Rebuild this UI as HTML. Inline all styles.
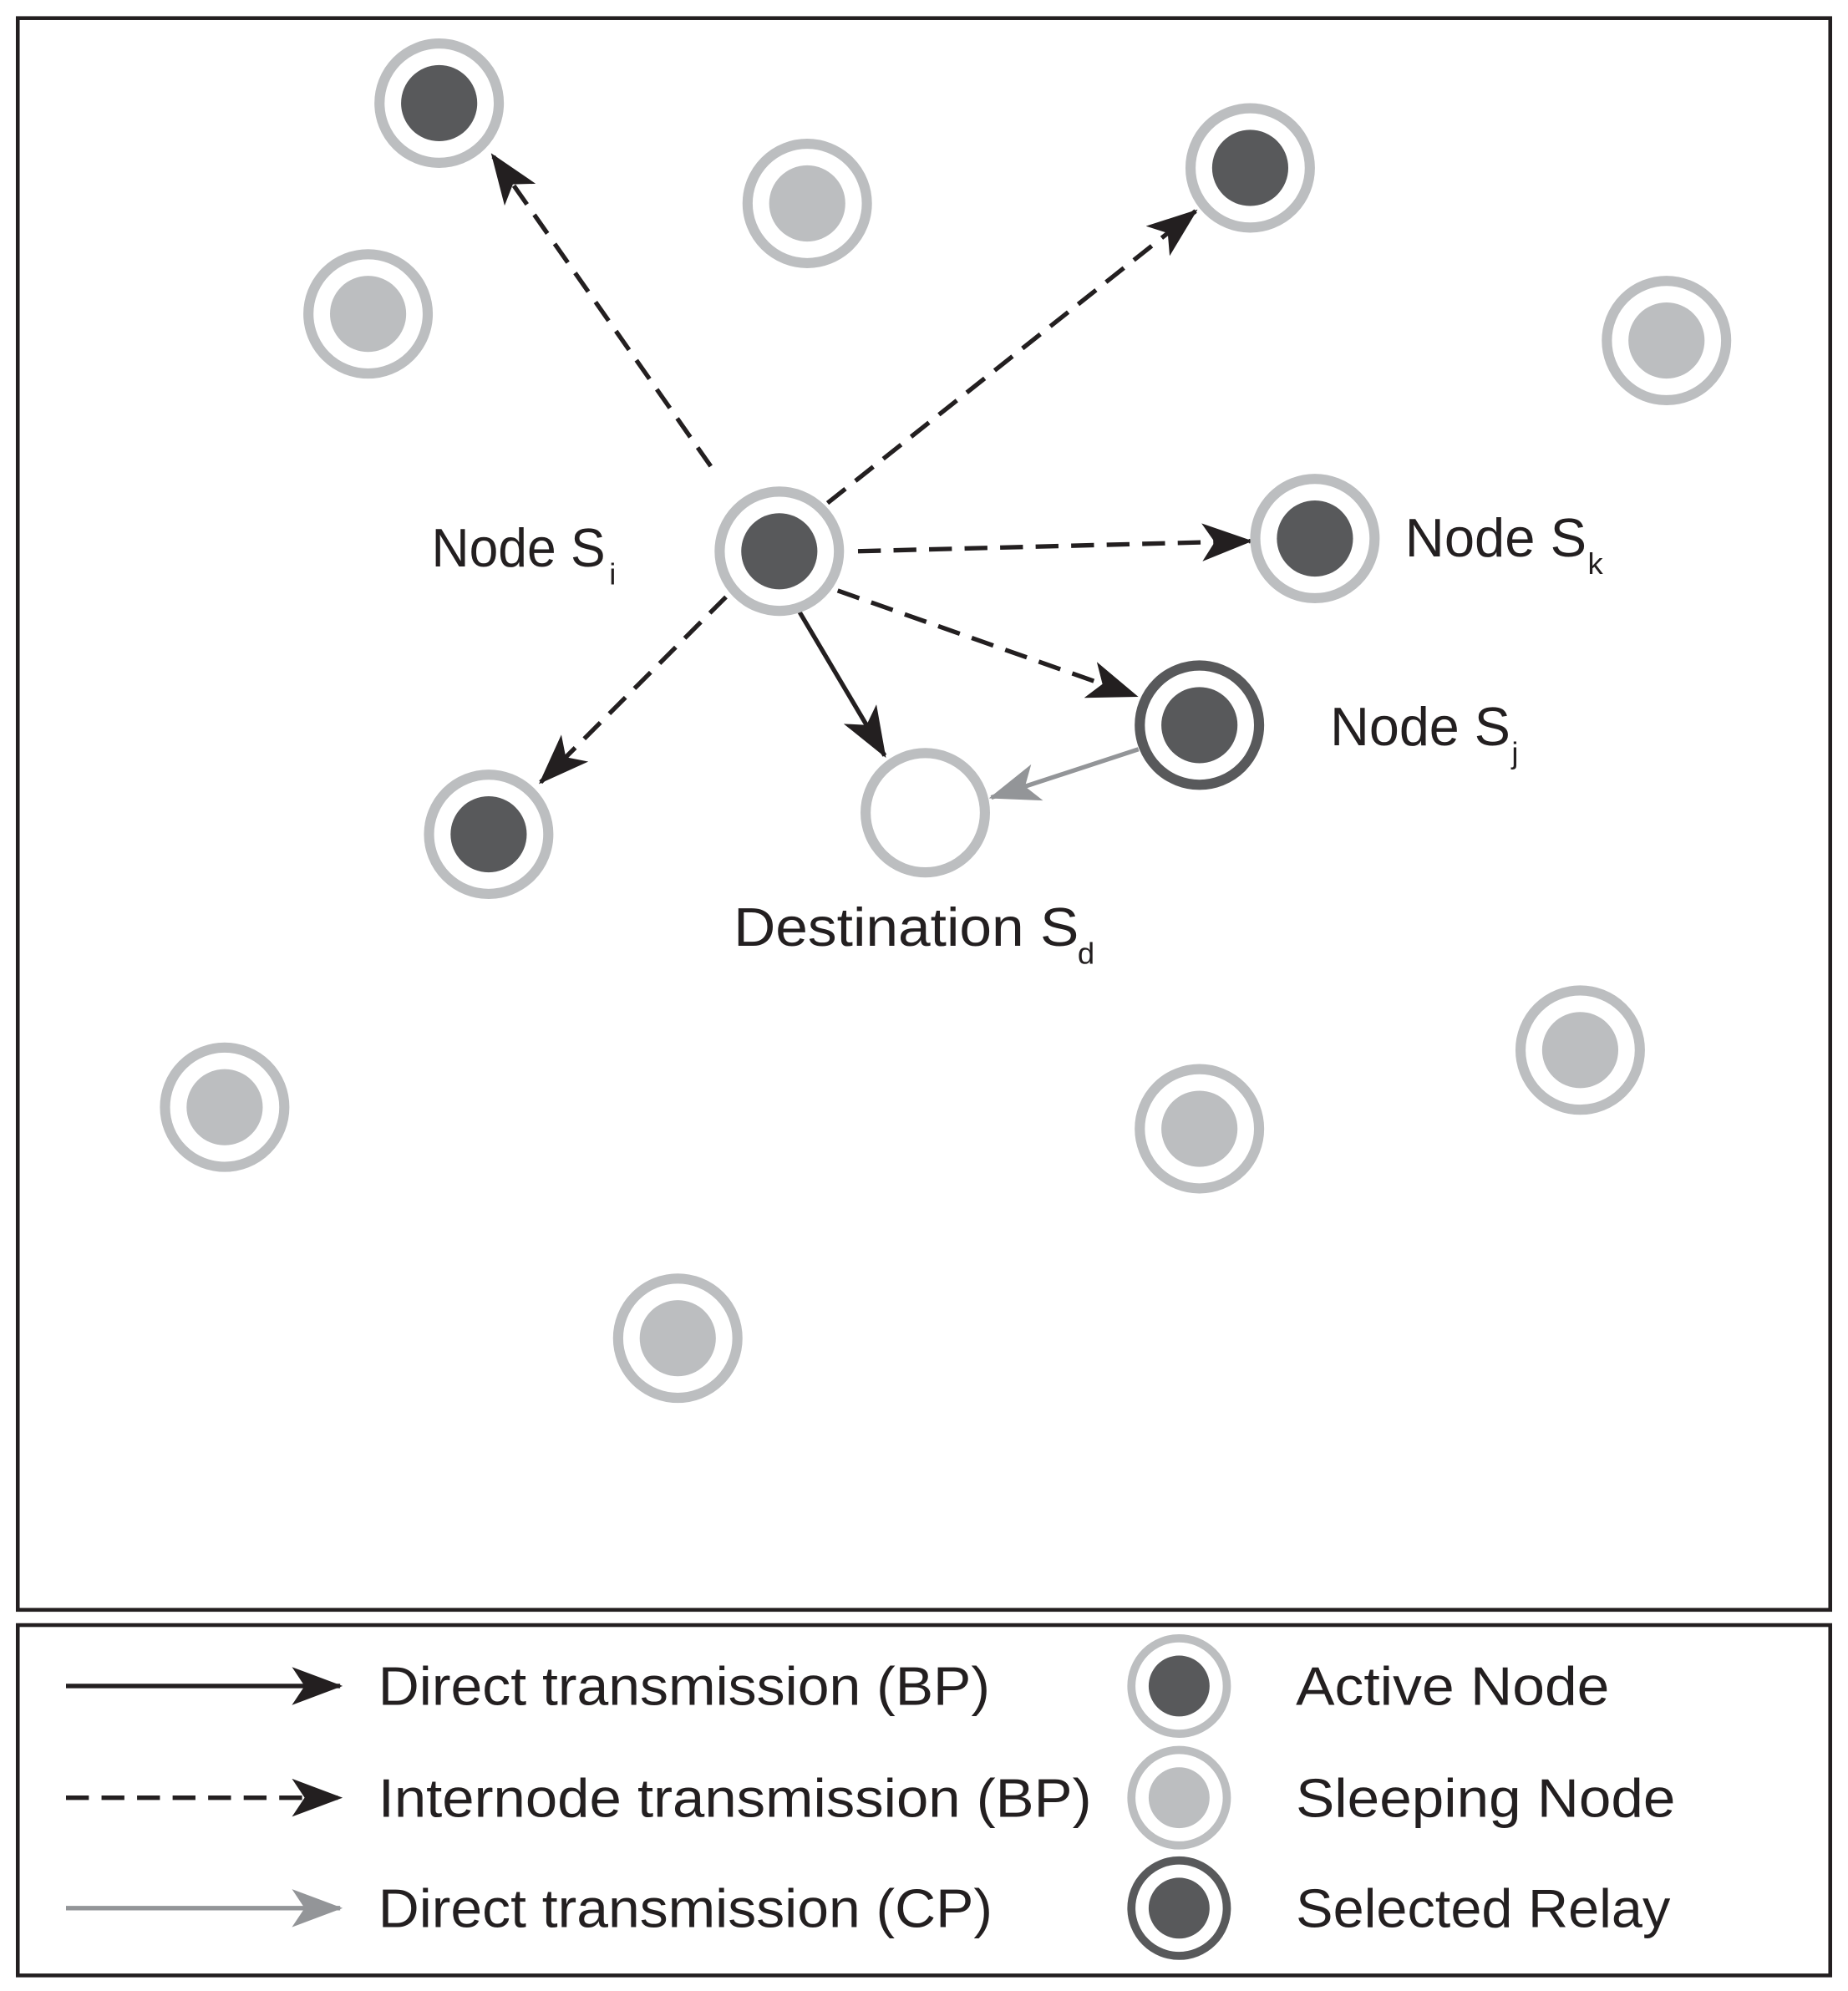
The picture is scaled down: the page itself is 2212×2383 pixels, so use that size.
<!DOCTYPE html>
<html><head><meta charset="utf-8"><style>
html,body{margin:0;padding:0;background:#fff;}
svg{display:block;}
text{font-family:"Liberation Sans",sans-serif;fill:#231f20;}
</style></head><body>
<svg width="2212" height="2383" viewBox="0 0 1456 1568" xmlns="http://www.w3.org/2000/svg">
<defs>
<marker id="ab" viewBox="0 0 40 30" refX="38" refY="15" markerWidth="40" markerHeight="30" markerUnits="userSpaceOnUse" orient="auto"><path d="M0,0 L40,15 L0,30 L10,15 Z" fill="#231f20"/></marker>
<marker id="ag" viewBox="0 0 40 30" refX="38" refY="15" markerWidth="40" markerHeight="30" markerUnits="userSpaceOnUse" orient="auto"><path d="M0,0 L40,15 L0,30 L10,15 Z" fill="#939598"/></marker>
<g id="act"><circle r="47" fill="#fff" stroke="#bcbec0" stroke-width="8"/><circle r="30" fill="#58595b"/></g>
<g id="slp"><circle r="47" fill="#fff" stroke="#bcbec0" stroke-width="8"/><circle r="30" fill="#bcbec0"/></g>
<g id="rel"><circle r="47" fill="#fff" stroke="#58595b" stroke-width="8"/><circle r="30" fill="#58595b"/></g>
</defs>
<rect x="14" y="14" width="1428" height="1254" fill="none" stroke="#231f20" stroke-width="3"/>
<rect x="14" y="1280" width="1428" height="276" fill="none" stroke="#231f20" stroke-width="3"/>

<g stroke="#231f20" stroke-width="3.5" fill="none">
<line x1="560" y1="367" x2="388" y2="122" stroke-dasharray="18,10" marker-end="url(#ab)"/>
<line x1="652" y1="396" x2="942" y2="166" stroke-dasharray="18,10" marker-end="url(#ab)"/>
<line x1="676" y1="434" x2="985" y2="426" stroke-dasharray="18,10" marker-end="url(#ab)"/>
<line x1="660" y1="465" x2="895" y2="548" stroke-dasharray="18,10" marker-end="url(#ab)"/>
<line x1="572" y1="470" x2="426" y2="616" stroke-dasharray="18,10" marker-end="url(#ab)"/>
<line x1="630" y1="482" x2="697" y2="595" marker-end="url(#ab)"/>
</g>
<line x1="897" y1="590" x2="781" y2="628" stroke="#939598" stroke-width="3.5" marker-end="url(#ag)"/>

<use href="#act" x="346" y="81"/>
<use href="#slp" x="636" y="160"/>
<use href="#act" x="985" y="132"/>
<use href="#slp" x="290" y="247"/>
<use href="#slp" x="1313" y="268"/>
<use href="#act" x="614" y="434"/>
<use href="#act" x="1036" y="424"/>
<use href="#rel" x="945" y="571"/>
<use href="#act" x="385" y="657"/>
<circle cx="729" cy="640" r="47" fill="#fff" stroke="#bcbec0" stroke-width="8"/>
<use href="#slp" x="177" y="872"/>
<use href="#slp" x="945" y="889"/>
<use href="#slp" x="1245" y="827"/>
<use href="#slp" x="534" y="1054"/>

<g font-size="43">
<text x="340" y="446" textLength="137" lengthAdjust="spacingAndGlyphs">Node S</text>
<text x="480" y="460" font-size="24">i</text>
<text x="1107" y="438" textLength="143" lengthAdjust="spacingAndGlyphs">Node S</text>
<text x="1251" y="452" font-size="24">k</text>
<text x="1048" y="587" textLength="142" lengthAdjust="spacingAndGlyphs">Node S</text>
<text x="1191" y="601" font-size="24">j</text>
<text x="578" y="745" textLength="272" lengthAdjust="spacingAndGlyphs">Destination S</text>
<text x="849" y="759" font-size="24">d</text>
</g>

<line x1="52" y1="1328" x2="268" y2="1328" stroke="#231f20" stroke-width="3.5" marker-end="url(#ab)"/>
<line x1="52" y1="1416" x2="268" y2="1416" stroke="#231f20" stroke-width="3.5" stroke-dasharray="18,10" marker-end="url(#ab)"/>
<line x1="52" y1="1503" x2="268" y2="1503" stroke="#939598" stroke-width="3.5" marker-end="url(#ag)"/>
<g font-size="43">
<text x="298" y="1343" textLength="482" lengthAdjust="spacingAndGlyphs">Direct transmission (BP)</text>
<text x="298" y="1431" textLength="562" lengthAdjust="spacingAndGlyphs">Internode transmission (BP)</text>
<text x="298" y="1518" textLength="484" lengthAdjust="spacingAndGlyphs">Direct transmission (CP)</text>
<text x="1021" y="1343" textLength="247" lengthAdjust="spacingAndGlyphs">Active Node</text>
<text x="1021" y="1431" textLength="299" lengthAdjust="spacingAndGlyphs">Sleeping Node</text>
<text x="1021" y="1518" textLength="295" lengthAdjust="spacingAndGlyphs">Selected Relay</text>
</g>
<g transform="translate(929,1328) scale(0.8)"><use href="#act"/></g>
<g transform="translate(929,1416) scale(0.8)"><use href="#slp"/></g>
<g transform="translate(929,1503) scale(0.8)"><use href="#rel"/></g>
</svg>
</body></html>
